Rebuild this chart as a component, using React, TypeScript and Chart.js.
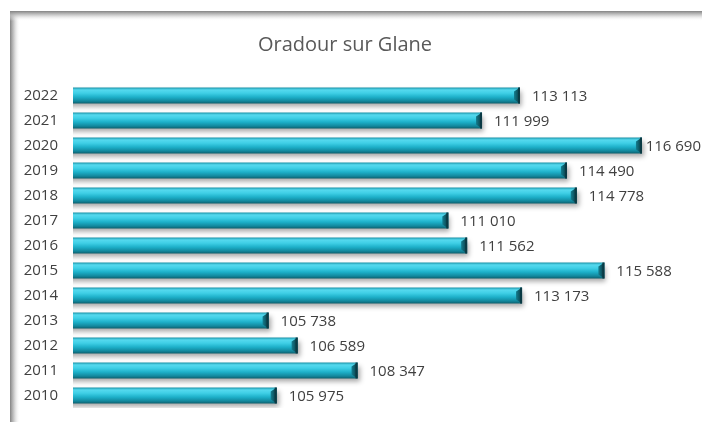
import React, { useEffect, useRef } from "react";
import { Chart, registerables } from "chart.js";

Chart.register(...registerables);

const years = ["2022", "2021", "2020", "2019", "2018", "2017", "2016", "2015", "2014", "2013", "2012", "2011", "2010"];
const values = [113113, 111999, 116690, 114490, 114778, 111010, 111562, 115588, 113173, 105738, 106589, 108347, 105975];
const titleText = "Oradour sur Glane";
const axisMin = 100000;
const axisMax = 118100;

const FONT = "'Open Sans', 'DejaVu Sans', sans-serif";

function fmt(v: number): string {
  return String(v).replace(/\B(?=(\d{3})+(?!\d))/g, " ");
}

const framePlugin = {
  id: "frame",
  beforeDraw(chart: any) {
    const ctx = chart.ctx;
    const w = chart.width;
    const h = chart.height;
    ctx.save();
    ctx.fillStyle = "#ffffff";
    ctx.fillRect(0, 0, w, h);
    const gl = ctx.createLinearGradient(10, 0, 20, 0);
    gl.addColorStop(0, "rgba(130,130,130,1)");
    gl.addColorStop(0.4, "rgba(190,190,190,0.8)");
    gl.addColorStop(1, "rgba(255,255,255,0)");
    ctx.fillStyle = gl;
    ctx.fillRect(10, 11, 10, h - 11);
    const gt = ctx.createLinearGradient(0, 11, 0, 21);
    gt.addColorStop(0, "rgba(130,130,130,1)");
    gt.addColorStop(0.4, "rgba(190,190,190,0.8)");
    gt.addColorStop(1, "rgba(255,255,255,0)");
    ctx.fillStyle = gt;
    ctx.fillRect(10, 11, w - 10, 10);
    ctx.restore();
  },
};

const barDecorPlugin = {
  id: "barDecor",
  beforeDatasetsDraw(chart: any) {
    const ctx = chart.ctx;
    ctx.save();
    ctx.shadowColor = "rgba(0,0,0,0.35)";
    ctx.shadowBlur = 5;
    ctx.shadowOffsetX = 2;
    ctx.shadowOffsetY = 3;
  },
  afterDatasetsDraw(chart: any) {
    const ctx = chart.ctx;
    ctx.restore();
    const meta = chart.getDatasetMeta(0);
    ctx.save();
    meta.data.forEach((el: any, i: number) => {
      const top = el.y - el.height / 2;
      const bottom = el.y + el.height / 2;
      const x = el.x;
      const base = el.base;
      if (![top, bottom, x, base].every((n) => Number.isFinite(n))) return;
      const gr = ctx.createLinearGradient(x - 6, 0, x, 0);
      gr.addColorStop(0, "#147e90");
      gr.addColorStop(1, "#08353d");
      ctx.fillStyle = gr;
      ctx.beginPath();
      ctx.moveTo(x - 6, top + 4);
      ctx.lineTo(x, top);
      ctx.lineTo(x, bottom);
      ctx.lineTo(x - 6, bottom - 4);
      ctx.closePath();
      ctx.fill();
      ctx.fillStyle = "#0a3a44";
      ctx.fillRect(x - 2, top, 2, bottom - top);
      ctx.fillStyle = "rgba(20,120,150,0.85)";
      ctx.beginPath();
      ctx.moveTo(base, top);
      ctx.lineTo(base + 4, top + 4);
      ctx.lineTo(base + 4, bottom - 4);
      ctx.lineTo(base, bottom);
      ctx.closePath();
      ctx.fill();
      ctx.fillStyle = "#404040";
      ctx.font = "15px " + FONT;
      ctx.textAlign = "left";
      ctx.textBaseline = "middle";
      const txt = fmt(values[i]);
      const tw = ctx.measureText(txt).width;
      const tx = Math.min(x + 12, chart.width - tw - 1);
      ctx.fillText(txt, tx, el.y + 1);
    });
    ctx.restore();
  },
};

export default function App() {
  const ref = useRef<HTMLCanvasElement | null>(null);

  useEffect(() => {
    if (!ref.current) return;
    const chart = new Chart(ref.current, {
      type: "bar",
      data: {
        labels: years,
        datasets: [
          {
            data: values,
            barPercentage: 0.64,
            categoryPercentage: 1,
            borderWidth: 0,
            backgroundColor: (c: any) => {
              const ch = c.chart;
              const ys = ch.scales && ch.scales.y;
              if (!ys || c.dataIndex === undefined) return "#22b8d2";
              const yc = ys.getPixelForValue(c.dataIndex);
              if (!Number.isFinite(yc)) return "#22b8d2";
              const half = 8;
              const g = ch.ctx.createLinearGradient(0, yc - half, 0, yc + half);
              g.addColorStop(0, "#1a93a8");
              g.addColorStop(0.15, "#55d9ee");
              g.addColorStop(0.35, "#3fcfe6");
              g.addColorStop(0.6, "#1db0c9");
              g.addColorStop(0.85, "#12879c");
              g.addColorStop(1, "#0c5f6d");
              return g;
            },
          },
        ],
      },
      options: {
        indexAxis: "y",
        responsive: false,
        animation: false,
        events: [],
        layout: { padding: { left: 0, right: 12, top: 0, bottom: 3 } },
        plugins: {
          legend: { display: false },
          tooltip: { enabled: false },
          title: {
            display: true,
            text: titleText,
            color: "#595959",
            font: { family: FONT, size: 20, weight: "normal" },
            padding: { top: 33, bottom: 26 },
          },
        },
        scales: {
          x: {
            display: false,
            min: axisMin,
            max: axisMax,
          },
          y: {
            afterFit: (s: any) => {
              s.width = 73;
            },
            grid: { display: false, drawTicks: false },
            border: { display: false },
            ticks: {
              color: "#404040",
              padding: 15,
              font: { family: FONT, size: 15 },
            },
          },
        },
      },
      plugins: [framePlugin, barDecorPlugin],
    } as any);
    return () => chart.destroy();
  }, []);

  return (
    <div style={{ position: "absolute", left: 0, top: 0, width: 702, height: 422, overflow: "hidden" }}>
      <canvas ref={ref} width={702} height={432} style={{ display: "block" }} />
    </div>
  );
}
